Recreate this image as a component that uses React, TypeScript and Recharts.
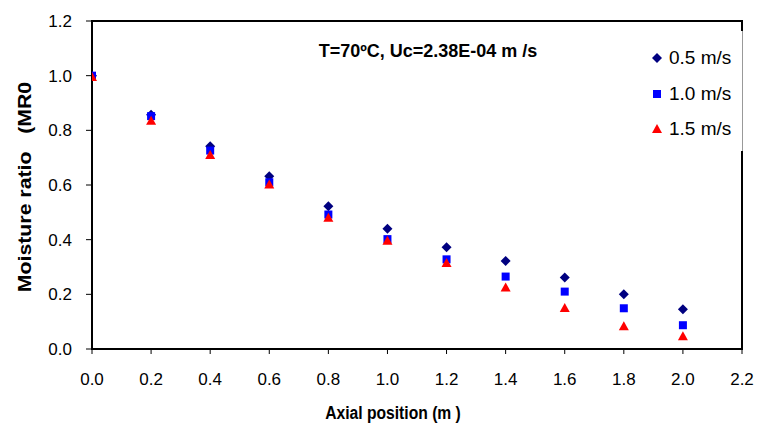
import { Label, ReferenceArea, Scatter, ScatterChart, XAxis, YAxis } from "recharts";

const positions = [0, 0.2, 0.4, 0.6, 0.8, 1.0, 1.2, 1.4, 1.6, 1.8, 2.0];
const mr05 = [1.0, 0.857, 0.742, 0.632, 0.522, 0.44, 0.372, 0.322, 0.262, 0.2, 0.145];
const mr10 = [1.0, 0.852, 0.726, 0.61, 0.492, 0.402, 0.328, 0.265, 0.21, 0.149, 0.087];
const mr15 = [0.995, 0.835, 0.71, 0.602, 0.48, 0.396, 0.315, 0.225, 0.15, 0.083, 0.047];
const xTicks = [0, 0.2, 0.4, 0.6, 0.8, 1.0, 1.2, 1.4, 1.6, 1.8, 2.0, 2.2];
const yTicks = [0, 0.2, 0.4, 0.6, 0.8, 1.0, 1.2];
const seriesNames = ["0.5 m/s", "1.0 m/s", "1.5 m/s"];

const font = "Arial, 'Liberation Sans', sans-serif";

const toPoints = (vals: number[]) => positions.map((x, i) => ({ x, y: vals[i] }));

function Diamond({ cx, cy }: any) {
  return <polygon points={`${cx},${cy - 5} ${cx + 5},${cy} ${cx},${cy + 5} ${cx - 5},${cy}`} fill="#000080" />;
}

function Square({ cx, cy }: any) {
  return <rect x={cx - 4} y={cy - 4} width={8} height={8} fill="#0000FF" />;
}

function Triangle({ cx, cy }: any) {
  return <polygon points={`${cx},${cy - 5} ${cx + 5},${cy + 4} ${cx - 5},${cy + 4}`} fill="#FF0000" />;
}

const markers = [Diamond, Square, Triangle];

function LegendBox() {
  return (
    <div
      style={{
        position: "absolute",
        left: 641,
        top: 31,
        width: 101,
        height: 120,
        background: "#fff",
        borderRight: "1px solid #999",
        fontFamily: font,
        fontSize: 19,
        color: "#000",
      }}
    >
      {seriesNames.map((name, i) => {
        const M = markers[i];
        return (
          <div key={name} style={{ position: "absolute", left: 10, top: 16 + i * 35.5, height: 22, display: "flex", alignItems: "center" }}>
            <svg width={12} height={12} style={{ marginRight: 6 }}>
              <M cx={6} cy={6} />
            </svg>
            <span>{name}</span>
          </div>
        );
      })}
    </div>
  );
}

export default function App() {
  return (
    <div style={{ position: "absolute", left: 0, top: 0, width: 759, height: 430, background: "#fff" }}>
      <ScatterChart width={759} height={430} margin={{ top: 21, right: 17, bottom: 0, left: 0 }}>
        <XAxis
          type="number"
          dataKey="x"
          domain={[0, 2.2]}
          ticks={xTicks}
          tickFormatter={(v: number) => v.toFixed(1)}
          height={81}
          tickSize={5}
          tickMargin={19}
          axisLine={{ stroke: "#000", strokeWidth: 2 }}
          tickLine={{ stroke: "#000" }}
          tick={{ fill: "#000", fontSize: 17, fontFamily: font }}
          allowDataOverflow
        >
          <Label
            content={() => (
              <text
                x={0}
                y={0}
                transform="translate(393 419) scale(0.87 1)"
                textAnchor="middle"
                fontFamily={font}
                fontSize={18}
                fontWeight="bold"
                fill="#000"
                style={{ whiteSpace: "pre" }}
              >
                Axial position (m )
              </text>
            )}
          />
        </XAxis>
        <YAxis
          type="number"
          dataKey="y"
          domain={[0, 1.2]}
          ticks={yTicks}
          tickFormatter={(v: number) => v.toFixed(1)}
          width={92}
          tickSize={6}
          tickMargin={14}
          axisLine={{ stroke: "#000", strokeWidth: 2 }}
          tickLine={{ stroke: "#000" }}
          tick={{ fill: "#000", fontSize: 17, fontFamily: font }}
          allowDataOverflow
        >
          <Label
            content={() => (
              <text
                x={0}
                y={0}
                transform="translate(31 187) rotate(-90) scale(1.12 1)"
                textAnchor="middle"
                fontFamily={font}
                fontSize={19}
                fontWeight="bold"
                fill="#000"
                style={{ whiteSpace: "pre" }}
              >
                {"Moisture ratio   (MR0"}
              </text>
            )}
          />
        </YAxis>
        <ReferenceArea x1={0} x2={2.2} y1={0} y2={1.2} fill="none" stroke="#000" strokeWidth={2} ifOverflow="visible" />
        <Scatter name={seriesNames[0]} data={toPoints(mr05)} shape={<Diamond />} isAnimationActive={false} />
        <Scatter name={seriesNames[1]} data={toPoints(mr10)} shape={<Square />} isAnimationActive={false} />
        <Scatter name={seriesNames[2]} data={toPoints(mr15)} shape={<Triangle />} isAnimationActive={false} />
        <text x={428} y={57} textAnchor="middle" fontFamily={font} fontSize={18} fontWeight="bold" fill="#000" style={{ whiteSpace: "pre" }}>
          T=70ºC, Uc=2.38E-04 m /s
        </text>
      </ScatterChart>
      <LegendBox />
    </div>
  );
}
